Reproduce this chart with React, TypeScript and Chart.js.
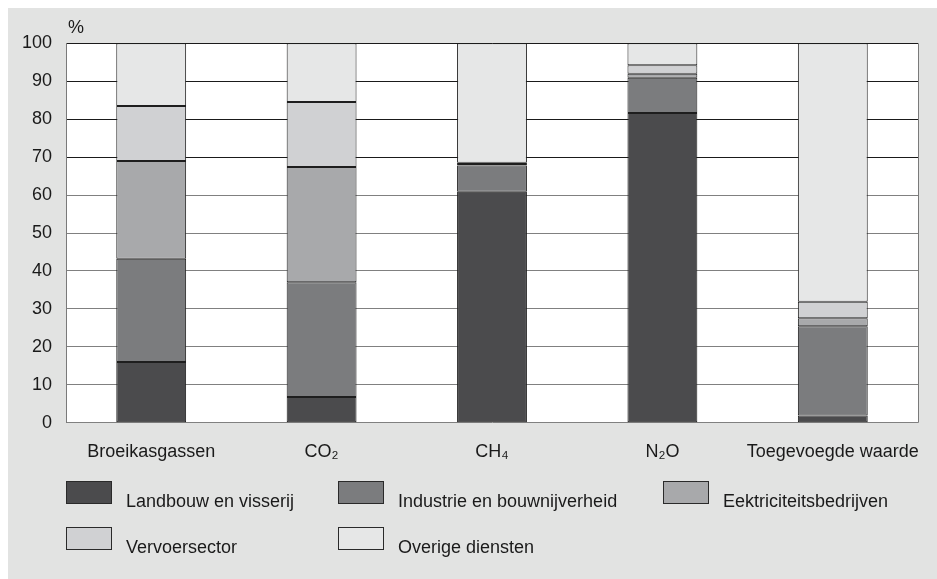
import { useEffect, useRef } from "react";
import { Chart, registerables } from "chart.js";

Chart.register(...registerables);

// Share per sector (%) for each category
const categories = ["Broeikasgassen", "CO₂", "CH₄", "N₂O", "Toegevoegde waarde"];
const landbouw = [16.0, 6.8, 60.9, 81.6, 1.9];
const industrie = [27.2, 30.2, 6.9, 9.3, 23.5];
const elektriciteit = [25.8, 30.4, 0.4, 1.1, 2.1];
const vervoer = [14.5, 17.1, 0.3, 2.2, 4.4];
const overige = [16.5, 15.5, 31.5, 5.8, 68.1];

const sectorNames = [
  "Landbouw en visserij",
  "Industrie en bouwnijverheid",
  "Eektriciteitsbedrijven",
  "Vervoersector",
  "Overige diensten",
];
const sectorValues = [landbouw, industrie, elektriciteit, vervoer, overige];
const sectorColors = ["#4b4b4d", "#7b7c7e", "#a8a9ab", "#d0d1d3", "#e6e7e7"];

const yMin = 0;
const yMax = 100;
const yStep = 10;

const FONT = "'Liberation Sans', Arial, sans-serif";
const PANEL_W = 929;
const PANEL_H = 571;

// White plotting area plus the right-hand frame line
const plotFrame = {
  id: "plotFrame",
  beforeDraw(chart: any) {
    const { ctx, chartArea } = chart;
    const { left, top, right, bottom } = chartArea;
    ctx.save();
    ctx.fillStyle = "#ffffff";
    ctx.fillRect(left, top, right - left, bottom - top);
    ctx.restore();
  },
  beforeDatasetsDraw(chart: any) {
    const { ctx, chartArea } = chart;
    const x = Math.round(chartArea.right) + 0.5;
    ctx.save();
    ctx.strokeStyle = "#7a7a7a";
    ctx.lineWidth = 1;
    ctx.beginPath();
    ctx.moveTo(x, chartArea.top);
    ctx.lineTo(x, chartArea.bottom);
    ctx.stroke();
    ctx.restore();
  },
};

const legendColumns = [58, 330, 655];
const legendRows = [472.7, 518.7];

export default function App() {
  const canvasRef = useRef<HTMLCanvasElement | null>(null);

  useEffect(() => {
    const canvas = canvasRef.current;
    if (!canvas) return;
    const chart = new Chart(canvas, {
      type: "bar",
      data: {
        labels: categories,
        datasets: sectorValues.map((vals, i) => ({
          label: sectorNames[i],
          data: vals,
          backgroundColor: sectorColors[i],
          borderColor: "#1e1e1e",
          borderWidth: 1,
          borderSkipped: false,
          barPercentage: 0.41,
          categoryPercentage: 1,
        })),
      },
      options: {
        responsive: false,
        animation: false,
        devicePixelRatio: 1,
        layout: { padding: { left: 0, right: 19, top: 35.3, bottom: 96.3 } },
        plugins: {
          legend: { display: false },
          tooltip: { enabled: false },
          title: { display: false },
        },
        scales: {
          x: {
            stacked: true,
            grid: { display: false },
            border: { display: false },
            ticks: {
              color: "#1a1a1a",
              font: { family: FONT, size: 18 },
              padding: 11,
              maxRotation: 0,
              autoSkip: false,
            },
            afterFit: (s: any) => {
              s.height = 60;
            },
          },
          y: {
            stacked: true,
            min: yMin,
            max: yMax,
            grid: {
              drawTicks: false,
              color: (ctx: any) =>
                ctx.tick && ctx.tick.value >= 70 ? "#1a1a1a" : "#808080",
              lineWidth: 1,
            },
            border: { display: true, color: "#7a7a7a" },
            ticks: {
              stepSize: yStep,
              color: "#1a1a1a",
              font: { family: FONT, size: 18 },
              padding: 14,
            },
            afterFit: (s: any) => {
              s.width = 58;
            },
          },
        },
      },
      plugins: [plotFrame],
    });
    return () => chart.destroy();
  }, []);

  return (
    <div
      style={{
        position: "absolute",
        left: 8,
        top: 8,
        width: PANEL_W,
        height: PANEL_H,
        background: "#e2e3e2",
        fontFamily: FONT,
        color: "#1a1a1a",
        overflow: "hidden",
      }}
    >
      <canvas
        ref={canvasRef}
        width={PANEL_W}
        height={PANEL_H}
        style={{ position: "absolute", left: 0, top: 0, width: PANEL_W, height: PANEL_H }}
      />
      <span
        style={{
          position: "absolute",
          left: 60,
          top: 9.8,
          fontSize: 18,
          lineHeight: "18px",
          whiteSpace: "nowrap",
        }}
      >
        %
      </span>
      {sectorNames.map((name, i) => {
        const col = legendColumns[i % 3];
        const row = legendRows[Math.floor(i / 3)];
        return (
          <div key={name}>
            <div
              style={{
                position: "absolute",
                left: col,
                top: row,
                width: 46,
                height: 23,
                boxSizing: "border-box",
                background: sectorColors[i],
                border: "1px solid #2a2a2a",
              }}
            />
            <span
              style={{
                position: "absolute",
                left: col + 60,
                top: row + 11,
                fontSize: 18,
                lineHeight: "18px",
                whiteSpace: "nowrap",
              }}
            >
              {name}
            </span>
          </div>
        );
      })}
    </div>
  );
}
